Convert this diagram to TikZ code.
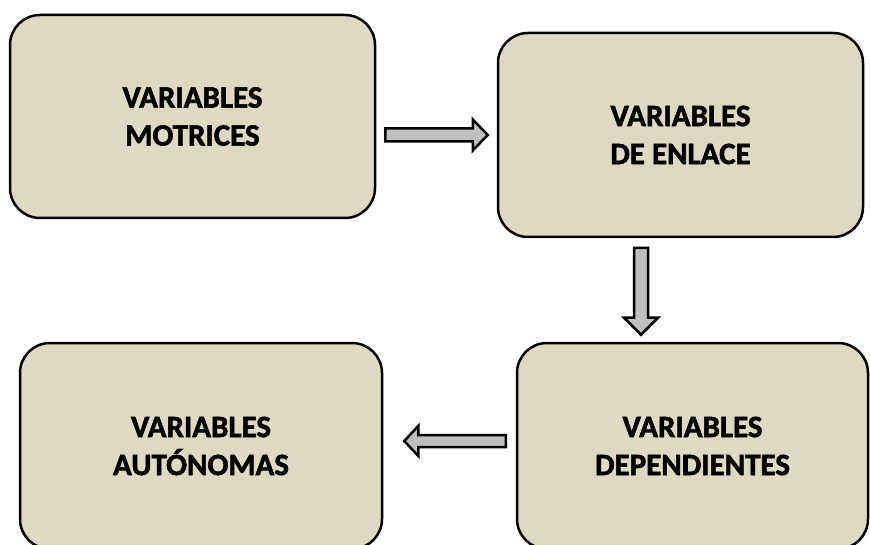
\documentclass[tikz,border=0pt]{standalone}
\usepackage{fontspec}
\newfontfamily\varfont[BoldFeatures={FakeBold=1.8}]{Carlito}
\usetikzlibrary{calc}
\definecolor{boxfill}{HTML}{DDD9C3}
\definecolor{arrowfill}{HTML}{BFBFBF}
\tikzset{
  varbox/.style={draw=black, line width=2.5pt, fill=boxfill, rounded corners=30pt,
    align=center, font=\varfont\bfseries\fontsize{31}{38}\selectfont},
  blockarrow/.style={draw=black, line width=2.5pt, fill=arrowfill, line join=miter}
}
\begin{document}
\begin{tikzpicture}[x=1pt,y=-1pt]
        \useasboundingbox (0,0) rectangle (870,545);
        % boxes
        \node[varbox, minimum width=365pt, minimum height=203pt] (mot) at (192.5,116.5) {VARIABLES\\MOTRICES};
        \node[varbox, minimum width=365pt, minimum height=204pt] (enl) at (680.5,135) {VARIABLES\\DE ENLACE};
        \node[varbox, minimum width=351pt, minimum height=206pt] (dep) at (692.5,446) {VARIABLES\\DEPENDIENTES};
        \node[varbox, minimum width=362pt, minimum height=206pt] (aut) at (201,446) {VARIABLES\\AUT\'ONOMAS};
        % arrow ends
        \coordinate (a1s) at ([xshift=9pt]mot.east |- enl.west);
        \coordinate (a1e) at ([xshift=-9pt]enl.west);
        \coordinate (a2s) at (641,248);
        \coordinate (a2e) at ([yshift=7pt]a2s |- dep.north);
        \coordinate (a3s) at ([xshift=-10pt,yshift=5pt]dep.west);
        \coordinate (a3e) at ([xshift=21pt]aut.east |- a3s);
        % arrows
        \draw[blockarrow] ([yshift=6.5pt]a1s) -- ([xshift=-15pt,yshift=6.5pt]a1e) -- ([xshift=-15pt,yshift=15.5pt]a1e) -- (a1e)
              -- ([xshift=-15pt,yshift=-15.5pt]a1e) -- ([xshift=-15pt,yshift=-6.5pt]a1e) -- ([yshift=-6.5pt]a1s) -- cycle;
        \draw[blockarrow] ([xshift=-7pt]a2s) -- ([xshift=-7pt,yshift=17pt]a2e) -- ([xshift=-17pt,yshift=17pt]a2e) -- (a2e)
              -- ([xshift=17pt,yshift=17pt]a2e) -- ([xshift=7pt,yshift=17pt]a2e) -- ([xshift=7pt]a2s) -- cycle;
        \draw[blockarrow] ([yshift=6pt]a3s) -- ([xshift=14pt,yshift=6pt]a3e) -- ([xshift=14pt,yshift=15pt]a3e) -- (a3e)
              -- ([xshift=14pt,yshift=-15pt]a3e) -- ([xshift=14pt,yshift=-6pt]a3e) -- ([yshift=-6pt]a3s) -- cycle;
\end{tikzpicture}
\end{document}
